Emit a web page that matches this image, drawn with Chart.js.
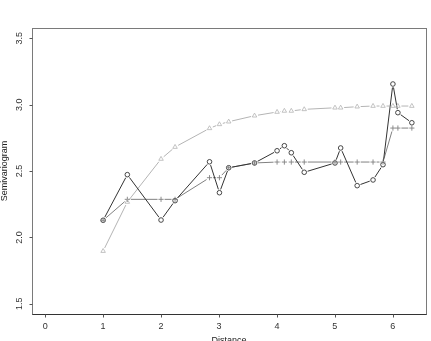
<!DOCTYPE html>
<html>
<head>
    <title>Semivariogram</title>
    <script src="https://cdn.jsdelivr.net/npm/chart.js"></script>
    <style>
        body {
            margin: 0;
            padding: 0;
            background-color: white;
        }
        .chart-container {
            position: relative;
            width: 431px;
            height: 341px;
        }
    </style>
</head>
<body>
    <div class="chart-container">
        <canvas id="variogramChart"></canvas>
    </div>

    <script>
        // values
        const distances = [1.0, 1.418, 2.0, 2.242, 2.837, 3.008, 3.168, 3.614, 4.003, 4.129,
                           4.249, 4.472, 5.003, 5.101, 5.386, 5.66, 5.832, 6.003, 6.089, 6.33];
        const empirical = [2.129, 2.473, 2.131, 2.277, 2.570, 2.337, 2.525, 2.561, 2.653, 2.691,
                           2.638, 2.491, 2.561, 2.674, 2.390, 2.433, 2.548, 3.156, 2.940, 2.864];
        const monotone  = [2.129, 2.287, 2.287, 2.287, 2.45, 2.45, 2.525, 2.561, 2.568, 2.568,
                           2.568, 2.568, 2.568, 2.568, 2.568, 2.568, 2.568, 2.824, 2.824, 2.824];
        const fitted    = [1.897, 2.267, 2.591, 2.681, 2.822, 2.852, 2.872, 2.917, 2.945, 2.953,
                           2.953, 2.965, 2.977, 2.977, 2.985, 2.99, 2.99, 2.99, 2.99, 2.99];

        const xTicks = [0, 1, 2, 3, 4, 5, 6];
        const yTicks = [1.5, 2.0, 2.5, 3.0, 3.5];
        const yTickLabels = ['1.5', '2.0', '2.5', '3.0', '3.5'];

        const FONT = '9px "Liberation Sans", Arial, sans-serif';

        function toPoints(ys) {
            return distances.map((d, i) => ({ x: d, y: ys[i] }));
        }

        // R style type="b": lines between points, leaving a gap round each point
        const gappedLines = {
            id: 'gappedLines',
            beforeDatasetsDraw(chart) {
                const ctx = chart.ctx;
                const gap = 3.5;
                chart.data.datasets.forEach((ds, di) => {
                    const pts = chart.getDatasetMeta(di).data;
                    ctx.save();
                    ctx.strokeStyle = ds.borderColor;
                    ctx.lineWidth = 1;
                    ctx.beginPath();
                    for (let i = 0; i < pts.length - 1; i++) {
                        const a = pts[i], b = pts[i + 1];
                        const dx = b.x - a.x, dy = b.y - a.y;
                        const len = Math.sqrt(dx * dx + dy * dy);
                        if (len <= 2 * gap) continue;
                        const ux = dx / len, uy = dy / len;
                        ctx.moveTo(a.x + ux * gap, a.y + uy * gap);
                        ctx.lineTo(b.x - ux * gap, b.y - uy * gap);
                    }
                    ctx.stroke();
                    ctx.restore();
                });
            }
        };

        // box, ticks and labels drawn like base R graphics
        const rAxes = {
            id: 'rAxes',
            afterDraw(chart) {
                const ctx = chart.ctx;
                const area = chart.chartArea;
                const xs = chart.scales.x, ys = chart.scales.y;
                const L = Math.round(area.left) + 0.5, T = Math.round(area.top) + 0.5;
                const R = Math.round(area.right) + 0.5, B = Math.round(area.bottom) + 0.5;
                ctx.save();
                ctx.lineWidth = 1;
                ctx.strokeStyle = '#7a7a7a';
                ctx.strokeRect(L, T, R - L, B - T);
                // bottom axis line is darker
                ctx.strokeStyle = '#333';
                ctx.beginPath();
                ctx.moveTo(L, B);
                ctx.lineTo(R, B);
                ctx.stroke();

                ctx.fillStyle = '#333';
                ctx.font = FONT;

                // x axis
                ctx.strokeStyle = '#555';
                ctx.beginPath();
                xTicks.forEach(t => {
                    const px = Math.round(xs.getPixelForValue(t)) + 0.5;
                    ctx.moveTo(px, B);
                    ctx.lineTo(px, B + 3);
                });
                ctx.stroke();
                ctx.textAlign = 'center';
                ctx.textBaseline = 'middle';
                xTicks.forEach(t => {
                    ctx.fillText(String(t), xs.getPixelForValue(t), 327);
                });

                // y axis
                ctx.beginPath();
                yTicks.forEach(t => {
                    const py = Math.round(ys.getPixelForValue(t)) + 0.5;
                    ctx.moveTo(L, py);
                    ctx.lineTo(L - 3, py);
                });
                ctx.stroke();
                yTicks.forEach((t, i) => {
                    ctx.save();
                    ctx.translate(20, ys.getPixelForValue(t));
                    ctx.rotate(-Math.PI / 2);
                    ctx.fillText(yTickLabels[i], 0, 0);
                    ctx.restore();
                });

                // axis titles
                ctx.fillStyle = '#222';
                ctx.textBaseline = 'top';
                ctx.fillText('Distance', (area.left + area.right) / 2, 336);
                ctx.save();
                ctx.translate(5, (area.top + area.bottom) / 2);
                ctx.rotate(-Math.PI / 2);
                ctx.textBaseline = 'middle';
                ctx.fillText('Semivariogram', 0, 0);
                ctx.restore();
                ctx.restore();
            }
        };

        const ctx = document.getElementById('variogramChart').getContext('2d');
        new Chart(ctx, {
            type: 'scatter',
            data: {
                datasets: [
                    {
                        label: 'fitted',
                        data: toPoints(fitted),
                        borderColor: '#b4b4b4',
                        backgroundColor: 'rgba(0,0,0,0)',
                        pointStyle: 'triangle',
                        pointRadius: 2.6,
                        borderWidth: 0.8,
                        showLine: false
                    },
                    {
                        label: 'monotone',
                        data: toPoints(monotone),
                        borderColor: '#808080',
                        backgroundColor: 'rgba(0,0,0,0)',
                        pointStyle: 'cross',
                        pointRadius: 2.6,
                        borderWidth: 0.9,
                        showLine: false
                    },
                    {
                        label: 'empirical',
                        data: toPoints(empirical),
                        borderColor: '#333333',
                        backgroundColor: 'rgba(0,0,0,0)',
                        pointStyle: 'circle',
                        pointRadius: 2.3,
                        borderWidth: 0.9,
                        showLine: false
                    }
                ]
            },
            options: {
                responsive: true,
                maintainAspectRatio: false,
                animation: false,
                layout: {
                    padding: { left: 31.7, top: 28, right: 2.3, bottom: 27 }
                },
                scales: {
                    x: { type: 'linear', min: -0.233, max: 6.576, display: false },
                    y: { type: 'linear', min: 1.423, max: 3.578, display: false }
                },
                plugins: {
                    legend: { display: false },
                    tooltip: { enabled: false }
                }
            },
            plugins: [gappedLines, rAxes]
        });
    </script>
</body>
</html>
